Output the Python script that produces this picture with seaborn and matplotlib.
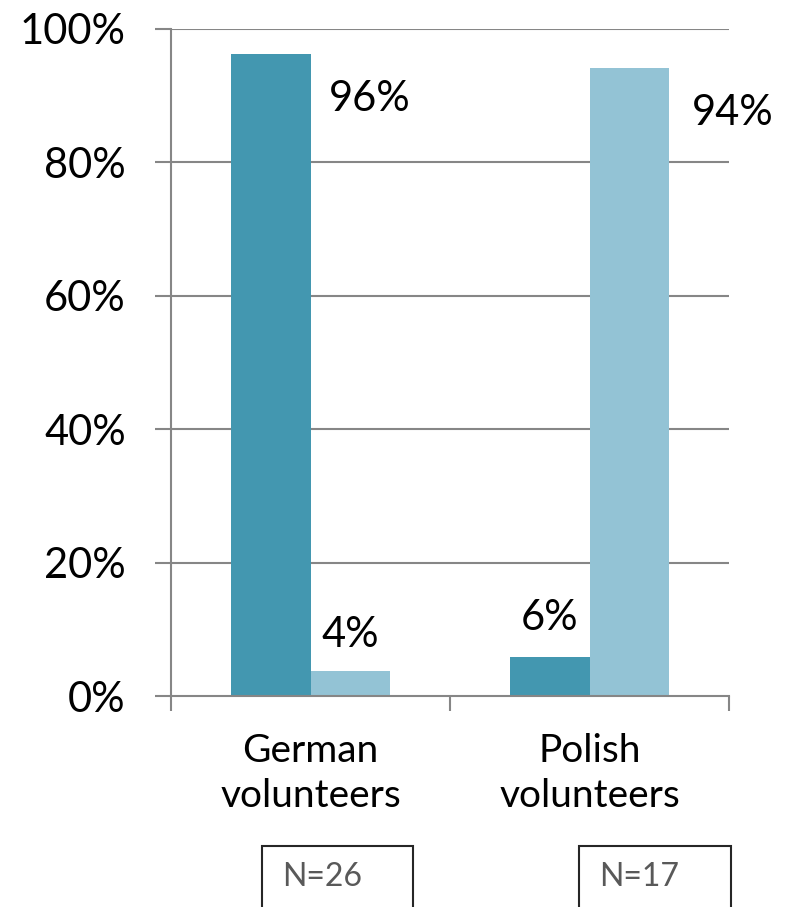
import pandas as pd
import seaborn as sns
import matplotlib.pyplot as plt
from matplotlib.patches import Rectangle
from matplotlib.ticker import FixedLocator

# data
groups = ['German\nvolunteers', 'Polish\nvolunteers']
series = ['A', 'B']
values_a = [96.2, 5.9]
values_b = [3.8, 94.1]
labels_a = ['96%', '6%']
labels_b = ['4%', '94%']
n_labels = ['N=26', 'N=17']
yticks = [0, 20, 40, 60, 80, 100]

colors = ['#4397B0', '#93C3D5']
grid_col = '#868686'

df = pd.DataFrame({
    'group': groups * 2,
    'series': [series[0]] * 2 + [series[1]] * 2,
    'value': values_a + values_b,
})

sns.set_theme(style='white')
plt.rcParams['font.family'] = ['Lato', 'DejaVu Sans']

W, H = 787, 907
fig = plt.figure(figsize=(W / 100, H / 100), dpi=100)
ax = fig.add_axes([171 / W, 1 - 696 / H, (729 - 171) / W, (696 - 29) / H])

sns.barplot(data=df, x='group', y='value', hue='series', palette=colors,
            width=0.567, saturation=1, linewidth=0, legend=False, ax=ax)

ax.set_xlim(-0.5, 1.5)
ax.set_ylim(0, 100)
ax.set_xlabel('')
ax.set_ylabel('')

# gridlines
for t in yticks[1:]:
    ax.axhline(t, color=grid_col, lw=1.5, zorder=0)
ax.set_axisbelow(True)

for s in ['top', 'right']:
    ax.spines[s].set_visible(False)
for s in ['left', 'bottom']:
    ax.spines[s].set_color(grid_col)
    ax.spines[s].set_linewidth(1.5)

fs = 30
ax.set_yticks(yticks)
ax.set_yticklabels([f'{t}%' for t in yticks], fontsize=fs, color='black')
ax.tick_params(axis='y', length=11.5, width=1.5, color=grid_col, pad=21, left=True)

ax.set_xticks([0, 1])
ax.set_xticklabels(groups, fontsize=28, linespacing=1.3, color='black')
ax.tick_params(axis='x', length=0, pad=27)
ax.xaxis.set_minor_locator(FixedLocator([-0.5, 0.5, 1.5]))
ax.tick_params(axis='x', which='minor', length=11, width=1.5, color=grid_col, bottom=True)

# data labels (offsets in points from the bar top)
offsets = {'96%': (71, -32), '94%': (75, -32), '4%': (0, 26), '6%': (0, 28)}
lab_order = [labels_a, labels_b]
for container, labs in zip(ax.containers, lab_order):
    for bar, lab in zip(container, labs):
        dx, dy = offsets[lab]
        ax.annotate(lab, (bar.get_x() + bar.get_width() / 2, bar.get_height()),
                    xytext=(dx, dy), textcoords='offset points',
                    ha='center', va='center', fontsize=fs, color='black')

# N boxes below the chart
box_x = [(262, 413), (579, 731)]
for (x0, x1), txt in zip(box_x, n_labels):
    fig.add_artist(Rectangle((x0 / W, -0.05), (x1 - x0) / W, (1 - 846 / H) + 0.05,
                             transform=fig.transFigure, fill=False,
                             edgecolor='#262626', lw=1.5))
    fig.text((x0 + 20) / W, 1 - 877 / H, txt, fontsize=23, color='#595959',
             ha='left', va='center')

fig.savefig('out.png', dpi=100)
